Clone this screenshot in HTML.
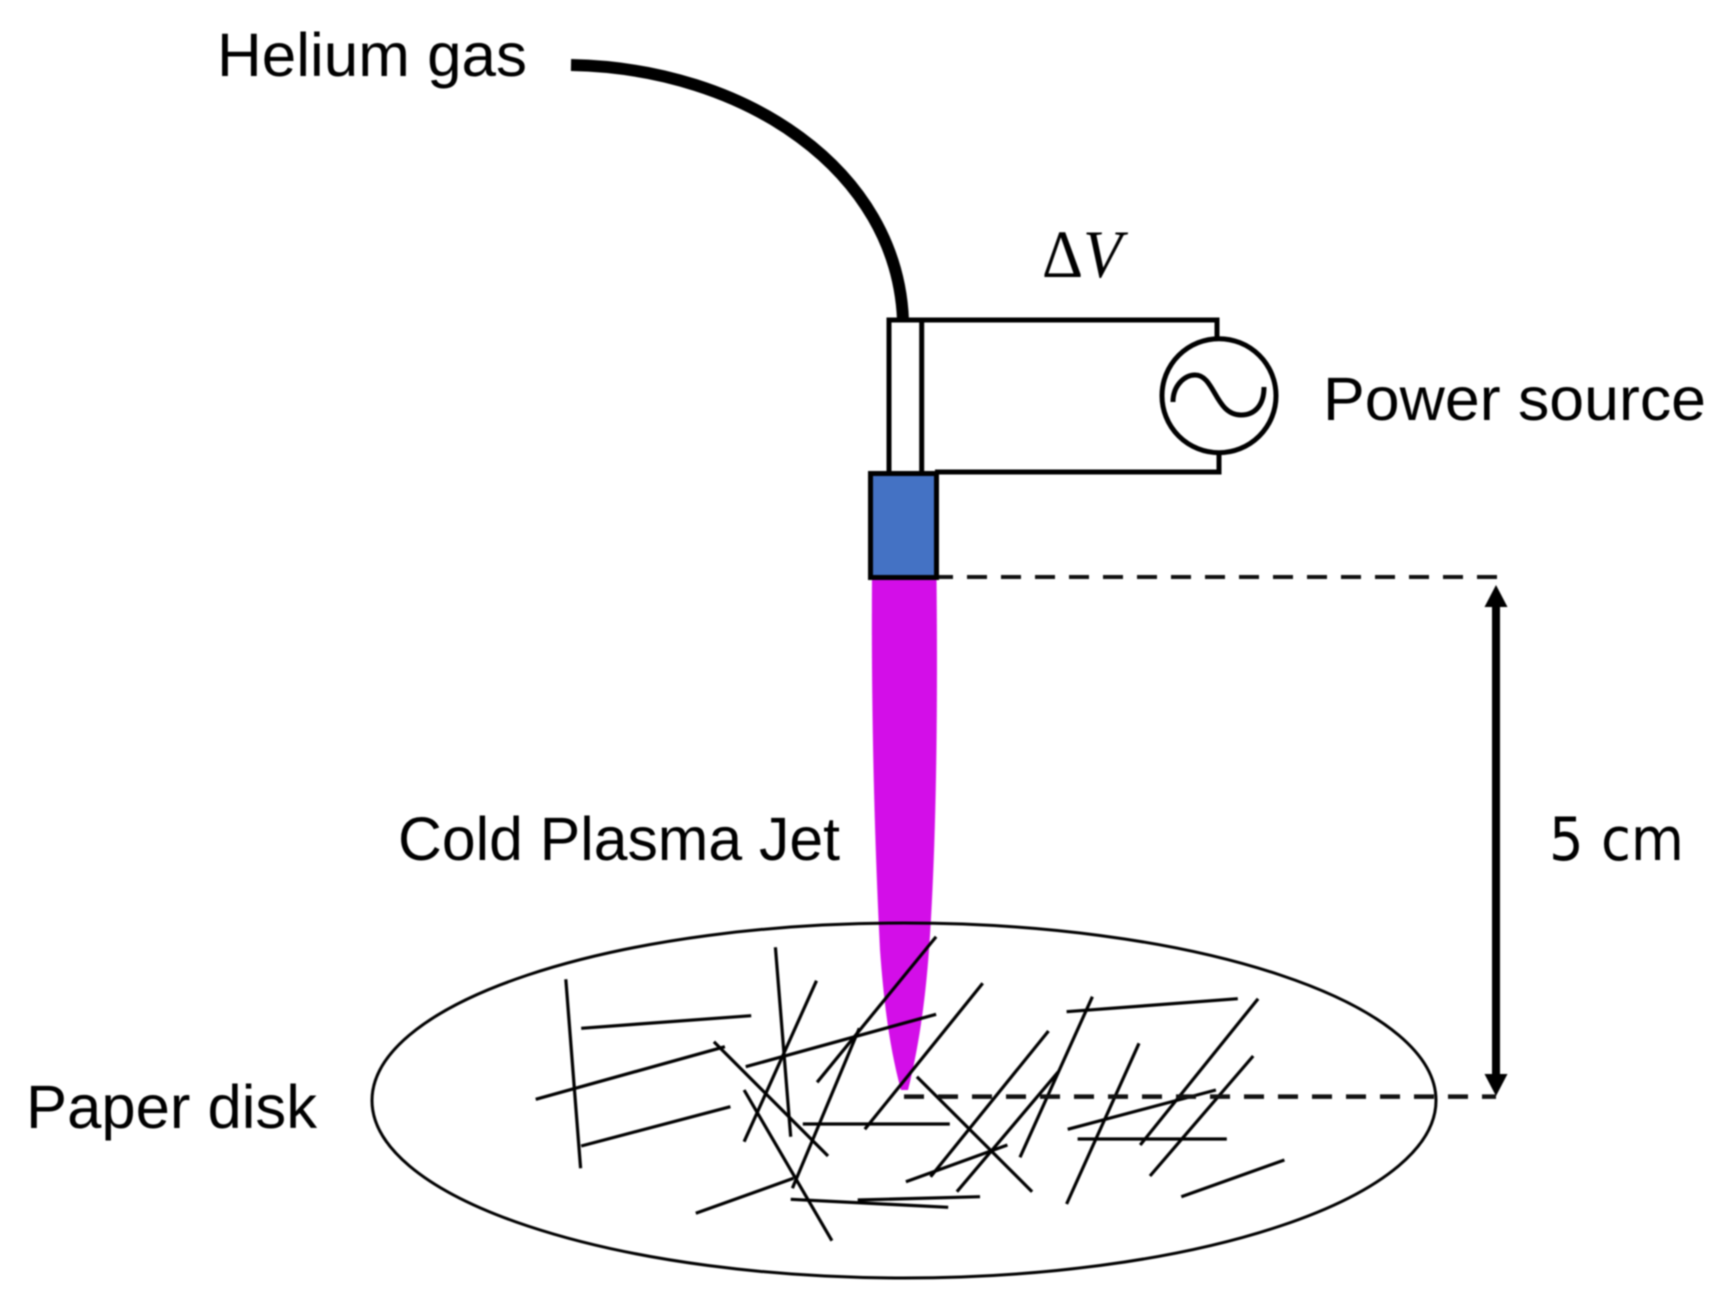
<!DOCTYPE html>
<html>
<head>
<meta charset="utf-8">
<style>
html,body{margin:0;padding:0;background:#fff;width:1723px;height:1307px;overflow:hidden}
svg{display:block;filter:blur(.9px)}
text{fill:#000}
.s{font-family:"Liberation Sans",sans-serif;font-size:61px}
.d{font-family:"DejaVu Sans",sans-serif;font-size:60px}
</style>
</head>
<body>
<svg width="1723" height="1307" viewBox="0 0 1723 1307" xmlns="http://www.w3.org/2000/svg">
<!-- plasma -->
<path d="M872 578 L936.5 578 C938 720 936 850 929 950 C925 1005 918 1050 908 1090 L901 1090 C890 1050 884 1005 880 950 C875 850 871 720 872 578 Z" fill="#d30ee8"/>
<!-- paper disk -->
<ellipse cx="904" cy="1100.5" rx="532" ry="177.5" fill="none" stroke="#000" stroke-width="3"/>
<!-- fibres -->
<g stroke="#000" stroke-width="3.2" fill="none">
<line x1="565.8" y1="979.3" x2="580.6" y2="1168.3"/>
<line x1="581.2" y1="1028.3" x2="751.2" y2="1015.7"/>
<line x1="535.7" y1="1099.3" x2="724.9" y2="1046.7"/>
<line x1="581.2" y1="1146" x2="730.4" y2="1106.7"/>
<line x1="775.4" y1="947.3" x2="790.7" y2="1136.7"/>
<line x1="816.5" y1="980.7" x2="744.1" y2="1141.7"/>
<line x1="713.9" y1="1041.7" x2="828" y2="1156"/>
<line x1="744.1" y1="1090" x2="831.9" y2="1240.7"/>
<line x1="745.7" y1="1066.7" x2="936.1" y2="1014.3"/>
<line x1="936.1" y1="936.7" x2="817.1" y2="1082.3"/>
<line x1="859.3" y1="1028.3" x2="792.4" y2="1188.3"/>
<line x1="982.7" y1="983.3" x2="864.8" y2="1129.3"/>
<line x1="802.8" y1="1124" x2="949.8" y2="1124"/>
<line x1="916.9" y1="1076.7" x2="1032.1" y2="1191.7"/>
<line x1="1048.5" y1="1031" x2="930.6" y2="1176.7"/>
<line x1="1007.4" y1="1145" x2="905.9" y2="1181.7"/>
<line x1="1058.4" y1="1071.7" x2="956.9" y2="1191.7"/>
<line x1="1092.4" y1="996.7" x2="1020" y2="1157.3"/>
<line x1="1066.6" y1="1011.7" x2="1237.8" y2="998.7"/>
<line x1="1139" y1="1043.3" x2="1066.6" y2="1204"/>
<line x1="1258.1" y1="998.7" x2="1140.2" y2="1145"/>
<line x1="1215.9" y1="1090" x2="1067.7" y2="1129.3"/>
<line x1="1077.6" y1="1139" x2="1226.8" y2="1139"/>
<line x1="1253.2" y1="1056" x2="1150" y2="1176"/>
<line x1="1284.4" y1="1160" x2="1181.3" y2="1196.7"/>
<line x1="790.7" y1="1199.3" x2="948.2" y2="1207.3"/>
<line x1="857.7" y1="1200" x2="980" y2="1196.7"/>
<line x1="793.5" y1="1178.3" x2="695.8" y2="1213.3"/>
</g>
<!-- gas tube -->
<path d="M571 65 C745 68 897 170 903 320" fill="none" stroke="#000" stroke-width="12"/>
<!-- nozzle and wires -->
<path d="M889 473 L889 320 L1217 320 L1217 338" fill="none" stroke="#000" stroke-width="5"/>
<line x1="921.7" y1="320" x2="921.7" y2="473" stroke="#000" stroke-width="5"/>
<path d="M935 472 L1219 472 L1219 453" fill="none" stroke="#000" stroke-width="5"/>
<rect x="870.5" y="473.5" width="66" height="104" fill="#4472c4" stroke="#000" stroke-width="5"/>
<!-- AC source -->
<circle cx="1219" cy="395.7" r="57" fill="#fff" stroke="#000" stroke-width="5"/>
<path d="M1173 402 C1173 385 1185 375 1195 375 C1215 375 1215 415 1241 415 C1255 415 1264 405 1264 387" fill="none" stroke="#000" stroke-width="5"/>
<!-- dashed guides -->
<line x1="939" y1="577" x2="1498" y2="577" stroke="#111" stroke-width="4" stroke-dasharray="20 14" stroke-dashoffset="6"/>
<line x1="904" y1="1096.6" x2="1496" y2="1096.6" stroke="#111" stroke-width="4.5" stroke-dasharray="20 14"/>
<!-- dimension arrow -->
<line x1="1496" y1="600" x2="1496" y2="1080" stroke="#000" stroke-width="8"/>
<polygon points="1496,585 1507.5,607 1484.5,607" fill="#000"/>
<polygon points="1496,1096 1507.5,1074 1484.5,1074" fill="#000"/>
<!-- labels -->
<text class="s" x="217" y="76" textLength="310" lengthAdjust="spacingAndGlyphs">Helium gas</text>
<text class="s" x="1323" y="420" textLength="383" lengthAdjust="spacingAndGlyphs">Power source</text>
<text class="s" x="398" y="860" textLength="442" lengthAdjust="spacingAndGlyphs">Cold Plasma Jet</text>
<text class="s" x="26" y="1128" textLength="291" lengthAdjust="spacingAndGlyphs">Paper disk</text>
<text class="d" x="1549" y="860" textLength="135" lengthAdjust="spacingAndGlyphs">5 cm</text>
<text x="1042" y="277" font-family="Liberation Serif, DejaVu Serif, serif" font-size="68" textLength="80" lengthAdjust="spacingAndGlyphs">Δ<tspan font-style="italic">V</tspan></text>
</svg>
</body>
</html>
